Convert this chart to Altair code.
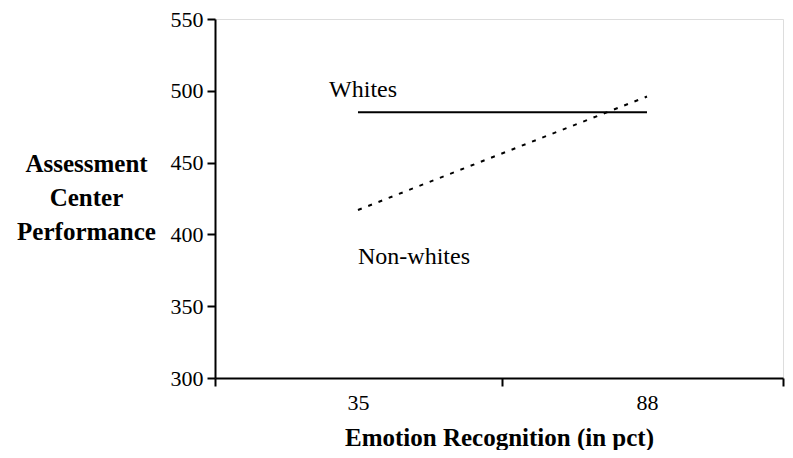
import altair as alt
import pandas as pd

# Data
x_levels = [35, 88]
whites = [485, 485]
nonwhites = [417, 496]
x_ticks = [8.78, 35, 61.45, 88, 112.94]
y_ticks = [300, 350, 400, 450, 500, 550]

labels_text = ["Whites", "Non-whites"]
labels_x = [29.7, 35]
labels_y = [500.5, 384.5]

lines_df = pd.DataFrame({
    "x": x_levels + x_levels,
    "y": whites + nonwhites,
    "group": ["Whites"] * 2 + ["Non-whites"] * 2,
})
labels_df = pd.DataFrame({"x": labels_x, "y": labels_y, "text": labels_text})

FONT = "Liberation Serif"

x_scale = alt.Scale(domain=[8.78, 112.94], nice=False, zero=False)
y_scale = alt.Scale(domain=[300, 550], nice=False, zero=False)

x_axis = alt.Axis(
    values=x_ticks,
    labelExpr="datum.value == 35 || datum.value == 88 ? datum.value : ''",
    tickOpacity={"condition": {"test": "datum.value == 35 || datum.value == 88", "value": 0}, "value": 1},
    grid=False,
    title="Emotion Recognition (in pct)",
    titleFont=FONT, titleFontSize=25, titleFontWeight="bold", titleColor="black",
    titleY=59, titleBaseline="middle",
    labelFont=FONT, labelFontSize=22, labelColor="black", labelPadding=6,
    tickSize=8, tickWidth=2, tickColor="black",
    domainColor="black", domainWidth=2,
)
y_axis = alt.Axis(
    values=y_ticks,
    grid=False,
    title=["Assessment", "Center", "Performance"],
    titleAngle=0, titleAlign="center", titleBaseline="middle",
    titleX=-129, titleY=144, titleLineHeight=34,
    titleFont=FONT, titleFontSize=25, titleFontWeight="bold", titleColor="black",
    labelFont=FONT, labelFontSize=22, labelColor="black", labelPadding=4,
    tickSize=8, tickWidth=2, tickColor="black",
    domainColor="black", domainWidth=2,
)

whites_line = alt.Chart(lines_df).transform_filter(
    alt.datum.group == "Whites"
).mark_line(color="black", strokeWidth=2).encode(
    x=alt.X("x:Q", scale=x_scale, axis=x_axis),
    y=alt.Y("y:Q", scale=y_scale, axis=y_axis),
)

nonwhites_line = alt.Chart(lines_df).transform_filter(
    alt.datum.group == "Non-whites"
).mark_line(color="black", strokeWidth=2, strokeDash=[4, 7]).encode(
    x=alt.X("x:Q", scale=x_scale),
    y=alt.Y("y:Q", scale=y_scale),
)

text = alt.Chart(labels_df).mark_text(
    font=FONT, fontSize=24, color="black", align="left", baseline="middle"
).encode(
    x=alt.X("x:Q", scale=x_scale),
    y=alt.Y("y:Q", scale=y_scale),
    text="text:N",
)

chart = alt.layer(whites_line, nonwhites_line, text).properties(
    width=568,
    height=359,
    autosize=alt.AutoSizeParams(type="none"),
    padding={"left": 207, "top": 11, "right": 2, "bottom": 72},
).configure_view(stroke=None).configure(background="white")

chart.save("out.html", embed_options={"renderer": "svg", "actions": False})
